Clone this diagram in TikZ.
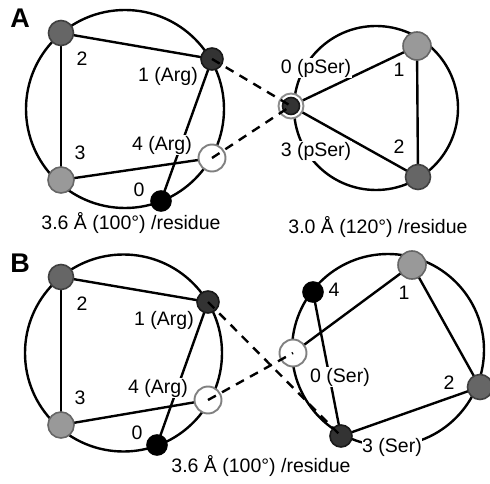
\documentclass[tikz,border=0pt]{standalone}
\usepackage{fontspec}
\setmainfont{Liberation Sans}
\begin{document}
\begin{tikzpicture}[x=1pt,y=-1pt,
  ring/.style={draw=black,line width=2.4pt},
  edge/.style={draw=black,line width=2.4pt},
  dashline/.style={draw=black,line width=2.4pt,dash pattern=on 9pt off 7pt},
  res/.style={circle,inner sep=0pt,line width=1.6pt},
  cA/.style={res,fill=black!80,draw=black!90,minimum size=22pt},
  cB/.style={res,fill=black!60,draw=black!75,minimum size=25pt},
  cC/.style={res,fill=black!40,draw=black!60,minimum size=26pt},
  cW/.style={res,fill=white,draw=black!50,line width=1.9pt,minimum size=27pt},
  cK/.style={res,fill=black,draw=black,minimum size=20pt},
  lab/.style={font=\fontsize{19.5}{19.5}\selectfont,fill=white,inner sep=0.6pt},
  captext/.style={font=\fontsize{19.5}{19.5}\selectfont,inner sep=0pt},
  panel/.style={font=\fontsize{27}{27}\selectfont\bfseries,inner sep=0pt}]
\useasboundingbox (0,0) rectangle (490,484);
% ---------- Panel A ----------
\node[panel] (pA) at (20,18) {A};
\draw[ring] (125,109) circle[radius=99];
\draw[ring] (376,108) circle[radius=82];
\coordinate (a2) at (61,33);
\coordinate (a1) at (212,59);
\coordinate (a4) at (212,158);
\coordinate (a3) at (61,180);
\coordinate (a0) at (161,201);
\coordinate (ap) at (291,106);
\coordinate (ar1) at (417,46);
\coordinate (ar2) at (418,177);
\draw[edge] (a2) -- (a1);
\draw[edge] (a2) -- (a3);
\draw[edge] (a3) -- (a4);
\draw[edge] (a1) -- (a0);
\draw[edge] (ap) -- (ar1);
\draw[edge] (ap) -- (ar2);
\draw[edge] (ar1) -- (ar2);
\node[lab] (la2) at (82,59) {2};
\node[lab] (la1) at (168,76) {1 (Arg)};
\node[lab] (la3) at (80,153) {3};
\node[lab] (la4) at (162,145) {4 (Arg)};
\node[lab] (la0) at (139,190) {0};
\node[lab] (lap0) at (316,68) {0 (pSer)};
\node[lab] (lap3) at (316,151) {3 (pSer)};
\node[lab] (lar1) at (399,70) {1};
\node[lab] (lar2) at (399,147) {2};
\node[cB] (n2) at (a2) {};
\node[cA] (n1) at (a1) {};
\node[cW] (n4) at (a4) {};
\node[cC] (n3) at (a3) {};
\node[cK] (n0) at (a0) {};
\node[res,fill=white,draw=black!45,line width=1.9pt,minimum size=25pt] (np) at (ap) {};
\node[res,fill=black!80,draw=black!90,minimum size=17pt] (npi) at (ap) {};
\node[cC,minimum size=28pt] (nr1) at (ar1) {};
\node[cB] (nr2) at (ar2) {};
\draw[dashline] (n1.center) -- (npi.center);
\draw[dashline] (n4.center) -- (npi.center);
\node[captext] (capA1) at (131,223) {3.6 Å (100°) /residue};
\node[captext] (capA2) at (378,227) {3.0 Å (120°) /residue};
% ---------- Panel B ----------
\node[panel] (pB) at (20,263) {B};
\draw[ring] (123.5,353) circle[radius=98.5];
\draw[ring] (388,350) circle[radius=96];
\coordinate (b2) at (61,277);
\coordinate (b1) at (208,302);
\coordinate (b4) at (208,400);
\coordinate (b3) at (61,425);
\coordinate (b0) at (157,445);
\coordinate (s4) at (313,292);
\coordinate (s1) at (412,265);
\coordinate (s0) at (293,353);
\coordinate (s2) at (480,387);
\coordinate (s3) at (341,436);
\draw[edge] (b2) -- (b1);
\draw[edge] (b2) -- (b3);
\draw[edge] (b3) -- (b4);
\draw[edge] (b1) -- (b0);
\draw[edge] (s0) -- (s1);
\draw[edge] (s1) -- (s2);
\draw[edge] (s2) -- (s3);
\draw[edge] (s4) -- (s3);
\node[lab] (lb2) at (82,304) {2};
\node[lab] (lb1) at (164,320) {1 (Arg)};
\node[lab] (lb3) at (80,398) {3};
\node[lab] (lb4) at (158,388) {4 (Arg)};
\node[lab] (lb0) at (137,433) {0};
\node[lab] (ls4) at (334,290) {4};
\node[lab] (ls1) at (404,293) {1};
\node[lab] (ls0) at (340,377) {0 (Ser)};
\node[lab] (ls2) at (449,383) {2};
\node[lab] (ls3) at (392,447) {3 (Ser)};
\node[cB] (m2) at (b2) {};
\node[cA] (m1) at (b1) {};
\node[cW] (m4) at (b4) {};
\node[cC] (m3) at (b3) {};
\node[cK] (m0) at (b0) {};
\node[cK] (t4) at (s4) {};
\node[cC,minimum size=28pt] (t1) at (s1) {};
\node[cW] (t0) at (s0) {};
\node[cB] (t2) at (s2) {};
\node[cA] (t3) at (s3) {};
\draw[dashline] (m1.center) -- (t3.center);
\draw[dashline] (m4.center) -- (t0.center);
\node[captext] (capB) at (261,466) {3.6 Å (100°) /residue};
\end{tikzpicture}
\end{document}
